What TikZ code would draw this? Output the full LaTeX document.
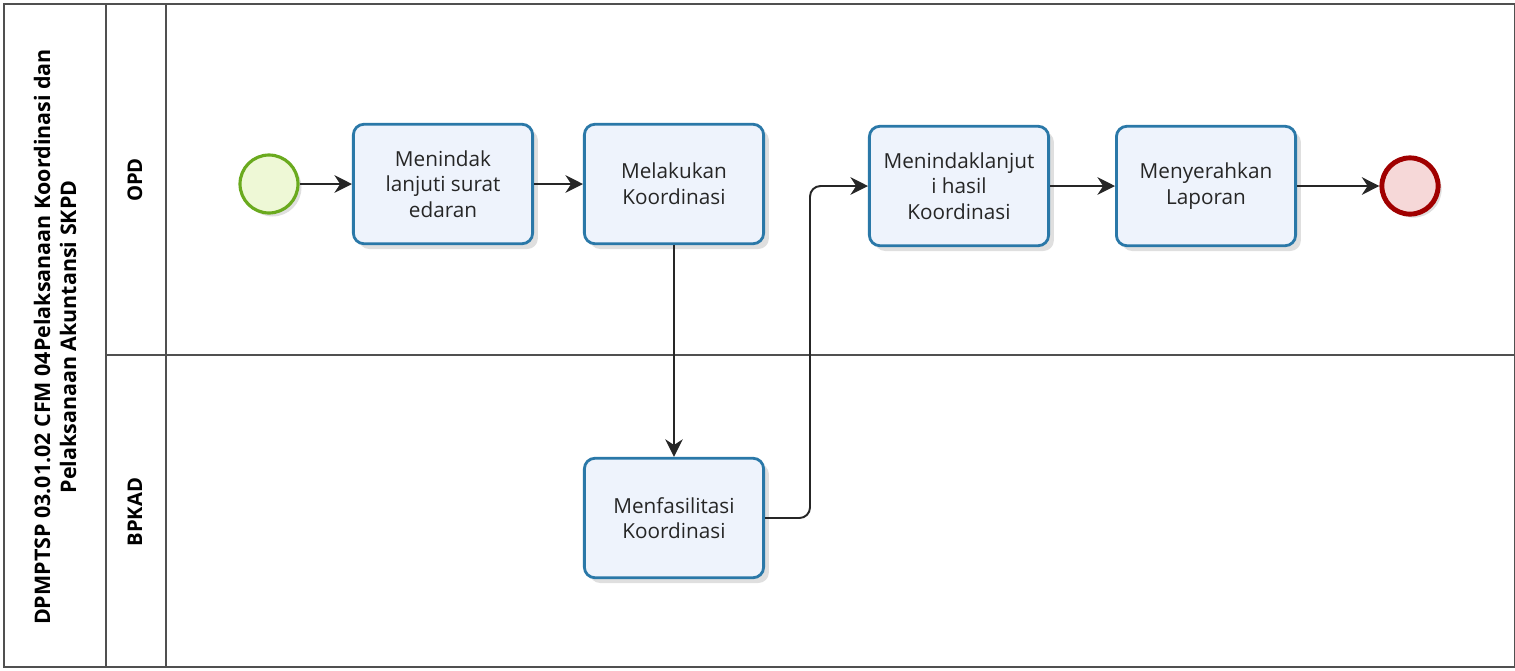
\documentclass[tikz,border=0pt]{standalone}
\usepackage{fontspec}
\setmainfont{Open Sans}
\usetikzlibrary{shadows,arrows.meta}
\definecolor{taskline}{HTML}{2A78A8}
\definecolor{taskfill}{HTML}{EEF3FC}
\definecolor{startline}{HTML}{6AAA1E}
\definecolor{startfill}{HTML}{EEF8D6}
\definecolor{endline}{HTML}{A00000}
\definecolor{endfill}{HTML}{F6D8D8}
\definecolor{poolline}{HTML}{505050}
\tikzset{
  task/.style={draw=taskline, line width=1.6pt, rounded corners=6pt, fill=taskfill,
    minimum width=102pt, minimum height=68pt, align=center, font=\fontsize{11.8}{14.6}\selectfont,
    text=black!85, drop shadow={shadow xshift=3pt, shadow yshift=-3pt, opacity=0.25, fill=gray}},
  startev/.style={circle, draw=startline, line width=1.8pt, fill=startfill, minimum size=33pt, inner sep=0pt,
    drop shadow={shadow xshift=2pt, shadow yshift=-2pt, opacity=0.25, fill=gray}},
  endev/.style={circle, draw=endline, line width=2.8pt, fill=endfill, minimum size=32pt, inner sep=0pt,
    drop shadow={shadow xshift=2pt, shadow yshift=-2pt, opacity=0.25, fill=gray}},
  flow/.style={draw=black!85, line width=1.1pt, -{Stealth[length=10pt,width=10pt]}},
  pool/.style={draw=poolline, line width=0.9pt},
  lanelabel/.style={rotate=90, font=\bfseries\fontsize{11.5}{13}\selectfont},
}
\begin{document}
\begin{tikzpicture}[x=0.02cm, y=-0.02cm]
\useasboundingbox (0,0) rectangle (1515,670);
% pool
\draw[pool] (4,4) rectangle (1515,667);
\draw[pool] (106,4) -- (106,667);
\draw[pool] (166,4) -- (166,667);
\draw[pool] (106,355) -- (1515,355);
\node[rotate=90, align=center, font=\bfseries\fontsize{12.2}{14.8}\selectfont] (title) at (55,337)
  {DPMPTSP 03.01.02 CFM 04Pelaksanaan Koordinasi dan\\Pelaksanaan Akuntansi SKPD};
\node[lanelabel] (opd) at (135,180) {OPD};
\node[lanelabel] (bpkad) at (135,512) {BPKAD};
% events and tasks
\node[startev] (start) at (269,184) {};
\node[task] (t1) at (443,184) {Menindak\\lanjuti surat\\edaran};
\node[task] (t2) at (674,184) {Melakukan\\Koordinasi};
\node[task] (t5) at (674,518) {Menfasilitasi\\Koordinasi};
\node[task] (t3) at (959,186) {Menindaklanjut\\i hasil\\Koordinasi};
\node[task] (t4) at (1206,186) {Menyerahkan\\Laporan};
\node[endev] (end) at (1410,186) {};
% flows
\draw[flow] (start) -- (t1);
\draw[flow] (t1) -- (t2);
\draw[flow] (t2) -- (t5);
\draw[flow, rounded corners=6pt] (t5.east) -- (810,518) -- (810,186) -- (t3.west);
\draw[flow] (t3) -- (t4);
\draw[flow] (t4) -- (end);
\end{tikzpicture}
\end{document}
